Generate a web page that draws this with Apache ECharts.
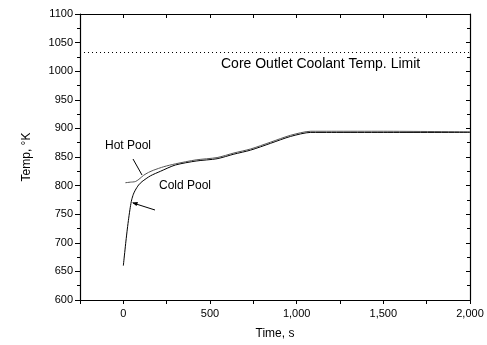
<!DOCTYPE html>
<html><head><meta charset="utf-8">
<script src="https://cdn.jsdelivr.net/npm/echarts@6/dist/echarts.min.js"></script>
<style>html,body{margin:0;padding:0;background:#fff}#c{width:487px;height:345px}</style>
</head><body><div id="c"></div>
<script>
var coldTime = [0, 8, 15, 23, 31, 40, 48, 58, 69, 88, 108, 156, 214, 300, 420, 541, 638, 734, 850, 965, 1081, 1200, 1500, 2000];
var coldTemp = [660, 683, 703, 724, 743, 762, 775, 785, 792, 801, 807, 817, 825, 836, 843, 847, 855, 862, 874, 886, 893, 893, 893, 893];
var hotTime = [12, 40, 69, 90, 117, 145, 175, 233, 300, 420, 541, 638, 734, 850, 965, 1081, 1200, 1500, 2000];
var hotTemp = [805, 806, 807, 811, 818, 823, 827, 833, 838, 845, 849, 857, 864, 876, 888, 895, 895, 895, 894];
var limitTemp = 1034;
var xTicks = [-250, 2000, 250];
var yTicks = [600, 1100, 50];

var font = 'Liberation Sans, Arial, sans-serif';
function pair(t, v) { return t.map(function (x, i) { return [x, v[i]]; }); }

var chart = echarts.init(document.getElementById('c'));
var axisLine = { show: true, onZero: false, lineStyle: { color: '#000', width: 1.2 } };
chart.setOption({
  animation: false,
  backgroundColor: '#fff',
  grid: { left: 80, right: 17, top: 14, bottom: 43, containLabel: false },
  xAxis: [{
    type: 'value', min: xTicks[0], max: xTicks[1], interval: xTicks[2],
    axisLine: axisLine, splitLine: { show: false },
    axisTick: { show: true, inside: false, length: 4, lineStyle: { color: '#000' } },
    axisLabel: { color: '#000', fontFamily: font, fontSize: 11, margin: 8,
      formatter: function (v) { return v % 500 === 0 ? v.toLocaleString('en-US') : ''; } },
    name: 'Time, s', nameLocation: 'middle', nameGap: 28,
    nameTextStyle: { color: '#000', fontFamily: font, fontSize: 12 }
  }, {
    type: 'value', position: 'top', min: xTicks[0], max: xTicks[1], interval: xTicks[2],
    axisLine: axisLine, splitLine: { show: false },
    axisTick: { show: true, inside: true, length: 4, lineStyle: { color: '#000' } },
    axisLabel: { show: false }
  }],
  yAxis: [{
    type: 'value', min: yTicks[0], max: yTicks[1], interval: yTicks[2],
    axisLine: axisLine, splitLine: { show: false },
    axisTick: { show: true, inside: false, length: 5, lineStyle: { color: '#000' } },
    minorTick: { show: true, splitNumber: 2, length: 3, lineStyle: { color: '#000' } },
    axisLabel: { color: '#000', fontFamily: font, fontSize: 11, margin: 7,
      formatter: function (v) { return String(v); } },
    name: 'Temp, \u00B0K', nameLocation: 'middle', nameGap: 47, nameRotate: 90,
    nameTextStyle: { color: '#000', fontFamily: font, fontSize: 12 }
  }, {
    type: 'value', position: 'right', min: yTicks[0], max: yTicks[1], interval: yTicks[2],
    axisLine: axisLine, splitLine: { show: false },
    axisTick: { show: true, inside: true, length: 4, lineStyle: { color: '#000' } },
    minorTick: { show: true, splitNumber: 2, length: 3, lineStyle: { color: '#000' } },
    axisLabel: { show: false }
  }],
  series: [{
    name: 'Cold Pool', type: 'line', data: pair(coldTime, coldTemp), smooth: 0.25,
    showSymbol: false, lineStyle: { color: '#000', width: 1 },
    markLine: {
      silent: true, symbol: 'none', label: { show: false },
      lineStyle: { color: '#000', type: [1, 3], width: 1 },
      data: [{ yAxis: limitTemp }]
    }
  }, {
    name: 'Hot Pool', type: 'line', data: pair(hotTime, hotTemp), smooth: 0.25,
    showSymbol: false, lineStyle: { color: '#555', width: 1 }
  }],
  graphic: [
    { type: 'text', left: 221, top: 57, style: { text: 'Core Outlet Coolant Temp. Limit', fill: '#000', font: '14px ' + font } },
    { type: 'text', left: 105, top: 140, style: { text: 'Hot Pool', fill: '#000', font: '12px ' + font } },
    { type: 'text', left: 159, top: 180, style: { text: 'Cold Pool', fill: '#000', font: '12px ' + font } },
    { type: 'line', shape: { x1: 133, y1: 159, x2: 142, y2: 175 }, style: { stroke: '#000', lineWidth: 1 } },
    { type: 'line', shape: { x1: 155, y1: 210, x2: 133, y2: 203 }, style: { stroke: '#000', lineWidth: 1 } },
    { type: 'polygon', shape: { points: [[132, 202.5], [138, 202], [136.5, 206]] }, style: { fill: '#000' } }
  ]
});
</script></body></html>
